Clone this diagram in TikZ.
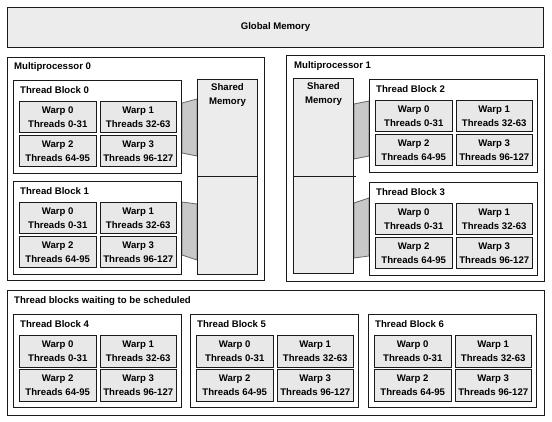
\documentclass[tikz,border=0pt]{standalone}
\usepackage{fontspec}
\setmainfont{Liberation Sans}
\pgfdeclarelayer{bg}
\pgfsetlayers{bg,main}
\definecolor{linec}{HTML}{1A1A1A}
\definecolor{warpc}{HTML}{E8E8E8}
\definecolor{memc}{HTML}{ECECEC}
\definecolor{linkc}{HTML}{C8C8C8}
\definecolor{linkline}{HTML}{6A6A6A}
\newcommand\txt{\fontsize{9.6}{14.5}\selectfont\bfseries}
\tikzset{
  box/.style={draw=linec, line width=1pt, anchor=north west, inner sep=0pt},
  warpbox/.style={box, fill=warpc, minimum width=76.5pt, minimum height=31.5pt, align=center, font=\txt},
  lbl/.style={anchor=west, inner sep=0pt, font=\txt},
  link/.style={fill=linkc, draw=linkline, line width=0.8pt},
  memtext/.style={anchor=north, align=center, inner sep=0pt, font=\txt},
}
\newcommand\tblock[4]{%
  \node[box, minimum width=168pt, minimum height=93pt] (#1) at (#2,#3) {};
  \node[lbl] (#1l) at (#2+7,#3+10) {Thread Block #4};
  \node[warpbox] (#1w0) at (#2+6,#3+21) {Warp 0\\Threads 0-31};
  \node[warpbox] (#1w1) at (#2+86.5,#3+21) {Warp 1\\Threads 32-63};
  \node[warpbox] (#1w2) at (#2+6,#3+55) {Warp 2\\Threads 64-95};
  \node[warpbox] (#1w3) at (#2+86.5,#3+55) {Warp 3\\Threads 96-127};
}
\begin{document}
\begin{tikzpicture}[x=1pt,y=-1pt]
\useasboundingbox (0,0) rectangle (552,422);
% global memory
\node[box, fill=memc, minimum width=536pt, minimum height=40pt, font=\txt] (gm) at (7,7) {Global Memory};
% multiprocessor 0
\node[box, minimum width=257pt, minimum height=223pt] (mp0) at (7,57) {};
\node[lbl] (mp0l) at (14,67) {Multiprocessor 0};
\tblock{tb0}{13}{80}{0}
\tblock{tb1}{13}{181}{1}
\node[box, fill=memc, minimum width=60pt, minimum height=195pt] (sm0) at (197,79) {};
\node[memtext] (sm0t) at ([yshift=-4pt]sm0.north) {Shared\\Memory};
\draw[linec, line width=1pt] (sm0.west |- 0,177) -- (sm0.east |- 0,177);
% multiprocessor 1
\node[box, minimum width=258pt, minimum height=226pt] (mp1) at (286,55) {};
\node[lbl] (mp1l) at (294,66) {Multiprocessor 1};
\node[box, fill=memc, minimum width=60pt, minimum height=195pt] (sm1) at (293,78) {};
\node[memtext] (sm1t) at ([yshift=-4pt]sm1.north) {Shared\\Memory};
\draw[linec, line width=1pt] (sm1.west |- 0,177) -- ([xshift=2pt]sm1.east |- 0,177);
\tblock{tb2}{369}{79}{2}
\tblock{tb3}{369}{182}{3}
% waiting
\node[box, minimum width=537pt, minimum height=125pt] (wait) at (7,290) {};
\node[lbl] (waitl) at (14,301) {Thread blocks waiting to be scheduled};
\tblock{tb4}{13}{314}{4}
\tblock{tb5}{190}{314}{5}
\tblock{tb6}{368}{314}{6}
% links
\begin{pgfonlayer}{bg}
\draw[link] ([yshift=-23pt]tb0.north east) -- ([yshift=-20pt]sm0.north west) -- ([yshift=-77pt]sm0.north west) -- ([yshift=21pt]tb0.south east) -- cycle;
\draw[link] ([yshift=-21pt]tb1.north east) -- ([yshift=71pt]sm0.south west) -- ([yshift=15pt]sm0.south west) -- ([yshift=20pt]tb1.south east) -- cycle;
\draw[link] ([yshift=-26pt]sm1.north east) -- ([yshift=-22pt]tb2.north west) -- ([yshift=17pt]tb2.south west) -- ([yshift=-81pt]sm1.north east) -- cycle;
\draw[link] ([yshift=71pt]sm1.south east) -- ([yshift=-16pt]tb3.north west) -- ([yshift=20pt]tb3.south west) -- ([yshift=16pt]sm1.south east) -- cycle;
\end{pgfonlayer}
\end{tikzpicture}
\end{document}
